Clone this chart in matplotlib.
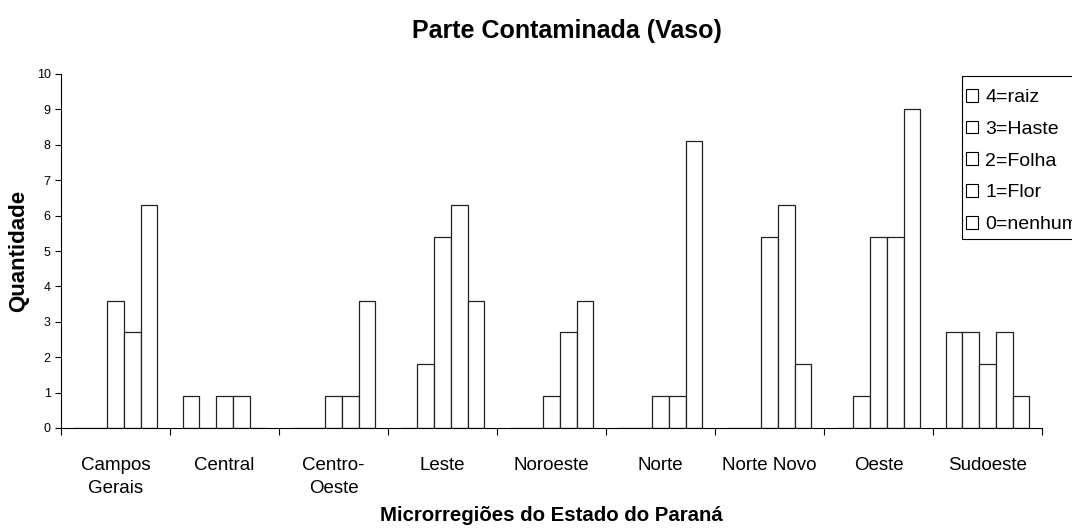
import numpy as np
import matplotlib.pyplot as plt
from matplotlib.patches import Patch, Rectangle

plt.rcParams['font.family'] = ['Liberation Sans', 'DejaVu Sans']

# regioes e series
regioes = ["Campos\nGerais", "Central", "Centro-\nOeste", "Leste", "Noroeste",
           "Norte", "Norte Novo", "Oeste", "Sudoeste"]
series = ["0=nenhum", "1=Flor", "2=Folha", "3=Haste", "4=raiz"]
nenhum = [0, 0.9, 0, 0, 0, 0, 0, 0, 2.7]
flor = [0, 0, 0, 1.8, 0, 0, 0, 0.9, 2.7]
folha = [3.6, 0.9, 0.9, 5.4, 0.9, 0.9, 5.4, 5.4, 1.8]
haste = [2.7, 0.9, 0.9, 6.3, 2.7, 0.9, 6.3, 5.4, 2.7]
raiz = [6.3, 0, 3.6, 3.6, 3.6, 8.1, 1.8, 9.0, 0.9]
valores = [nenhum, flor, folha, haste, raiz]

W, H = 1072, 530
fig = plt.figure(figsize=(W / 100, H / 100), dpi=100)
ax = fig.add_axes([61 / W, 1 - 428 / H, (1042 - 61) / W, (428 - 74) / H])

x = np.arange(len(regioes))
w = 1 / 6.5  # gap width 150%
for k, vals in enumerate(valores):
    ax.bar(x + (k - 2) * w, vals, width=w, color='white', edgecolor='#222222',
           linewidth=0.9, label=series[k])

ax.set_xlim(-0.5, len(regioes) - 0.5)
ax.set_ylim(0, 10)
ax.set_yticks(range(0, 11))
ax.tick_params(axis='y', labelsize=9, length=4, width=0.8, direction='out')

# ticks nas divisas, rotulos no centro
ax.set_xticks(np.arange(len(regioes) + 1) - 0.5)
ax.set_xticklabels([])
ax.tick_params(axis='x', which='major', length=5, width=0.8, direction='out')
ax.set_xticks(x, minor=True)
ax.set_xticklabels(regioes, minor=True, fontsize=13.5, linespacing=1.45)
ax.tick_params(axis='x', which='minor', length=0, pad=21)

ax.spines['top'].set_visible(False)
ax.spines['right'].set_visible(False)
ax.spines['left'].set_linewidth(0.8)
ax.spines['bottom'].set_linewidth(0.8)

fig.text(567 / W, 1 - 38 / H, "Parte Contaminada (Vaso)", fontsize=18,
         fontweight='bold', ha='center', va='baseline')
fig.text(551 / W, 1 - 521 / H, "Microrregiões do Estado do Paraná", fontsize=14.7,
         fontweight='bold', ha='center', va='baseline')
fig.text(19 / W, 1 - 251 / H, "Quantidade", fontsize=16, fontweight='bold',
         ha='center', va='center', rotation=90)

# caixa da legenda (passa da borda direita, como no original)
fig.patches.append(Rectangle((962 / W, 1 - 239 / H), 130 / W, 163 / H,
                             transform=fig.transFigure, facecolor='white',
                             edgecolor='black', linewidth=0.8, zorder=3))
handles = [Patch(facecolor='white', edgecolor='black', linewidth=0.8) for _ in series]
leg = fig.legend(handles[::-1], series[::-1], loc='upper left',
                 bbox_to_anchor=(966 / W, 1 - 89 / H), fontsize=14,
                 frameon=False, handlelength=0.62, handleheight=0.62,
                 handletextpad=0.36, labelspacing=0.75, borderpad=0,
                 borderaxespad=0)
leg.set_zorder(4)

fig.savefig("out.png", dpi=100)
